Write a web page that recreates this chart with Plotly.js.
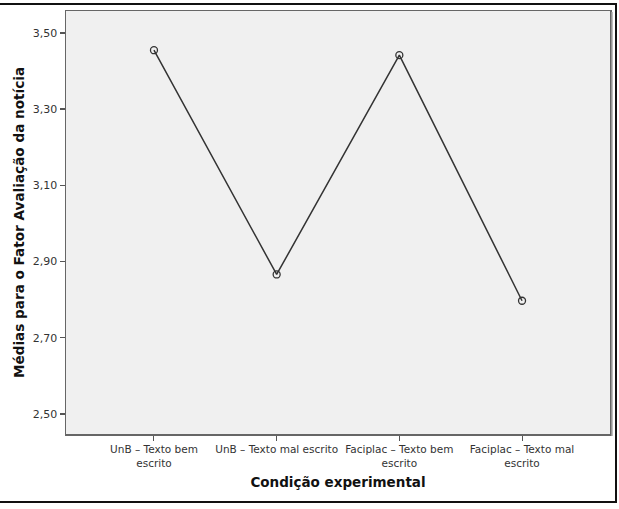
<!DOCTYPE html>
<html>
<head>
<meta charset="utf-8">
<script src="https://cdn.plot.ly/plotly-3.0.1.min.js"></script>
<style>html,body{margin:0;padding:0;background:#fff;}#chart{width:619px;height:509px;}</style>
</head>
<body>
<div id="chart"></div>
<script>
var categories = ["UnB – Texto bem<br>escrito", "UnB – Texto mal escrito", "Faciplac – Texto bem<br>escrito", "Faciplac – Texto mal<br>escrito"];
var means = [3.455, 2.866, 3.442, 2.797];
var yTickVals = [2.5, 2.7, 2.9, 3.1, 3.3, 3.5];
var yTickText = ["2,50", "2,70", "2,90", "3,10", "3,30", "3,50"];

var W = 619, H = 509, L = 66, R = 9, T = 11, B = 75;
var pw = W - L - R, ph = H - T - B;
function px(x){ return (x - L) / pw; }
function py(y){ return (H - B - y) / ph; }

var trace = {
  x: categories.map(function(c, i){ return i; }),
  y: means,
  mode: "lines+markers",
  type: "scatter",
  line: {color: "#333333", width: 1.5},
  marker: {symbol: "circle-open", size: 7, color: "#333333", line: {width: 1.3, color: "#333333"}},
  hoverinfo: "none"
};

var layout = {
  width: W, height: H,
  margin: {l: L, r: R, t: T, b: B},
  paper_bgcolor: "#ffffff",
  plot_bgcolor: "#f0f0f0",
  showlegend: false,
  font: {family: "DejaVu Sans, sans-serif", color: "#333"},
  xaxis: {
    range: [-0.717, 3.717],
    tickvals: [0, 1, 2, 3],
    ticktext: categories,
    ticks: "outside", ticklen: 5, tickcolor: "#555", tickwidth: 1,
    showgrid: false, zeroline: false,
    showline: true, mirror: true, linecolor: "#666", linewidth: 1.5,
    tickfont: {size: 10.5, color: "#333", family: "DejaVu Sans, sans-serif"},
    title: {text: "Condição experimental", font: {size: 13.5, color: "#111", family: "DejaVu Sans, sans-serif", weight: "bold"}, standoff: 10}
  },
  yaxis: {
    range: [2.447, 3.558],
    tickvals: yTickVals,
    ticktext: yTickText,
    ticks: "outside", ticklen: 5, tickcolor: "#555", tickwidth: 1.5,
    showgrid: false, zeroline: false,
    showline: true, mirror: true, linecolor: "#666", linewidth: 1.5,
    tickfont: {size: 11, color: "#333", family: "DejaVu Sans, sans-serif"},
    title: {text: "Médias para o Fator Avaliação da notícia", font: {size: 13.6, color: "#111", family: "DejaVu Sans, sans-serif", weight: "bold"}, standoff: 5}
  },
  shapes: [
    {type: "line", xref: "paper", yref: "paper", x0: px(0), x1: px(617), y0: py(4), y1: py(4), line: {color: "#111", width: 2}},
    {type: "line", xref: "paper", yref: "paper", x0: px(616), x1: px(616), y0: py(4), y1: py(502), line: {color: "#111", width: 2}},
    {type: "line", xref: "paper", yref: "paper", x0: px(0), x1: px(617), y0: py(502), y1: py(502), line: {color: "#111", width: 2}},
    {type: "line", xref: "paper", yref: "paper", x0: px(612), x1: px(612), y0: py(12), y1: py(436), line: {color: "#aaa", width: 1.5}}
  ]
};

Plotly.newPlot("chart", [trace], layout, {staticPlot: true, displayModeBar: false});
</script>
</body>
</html>
